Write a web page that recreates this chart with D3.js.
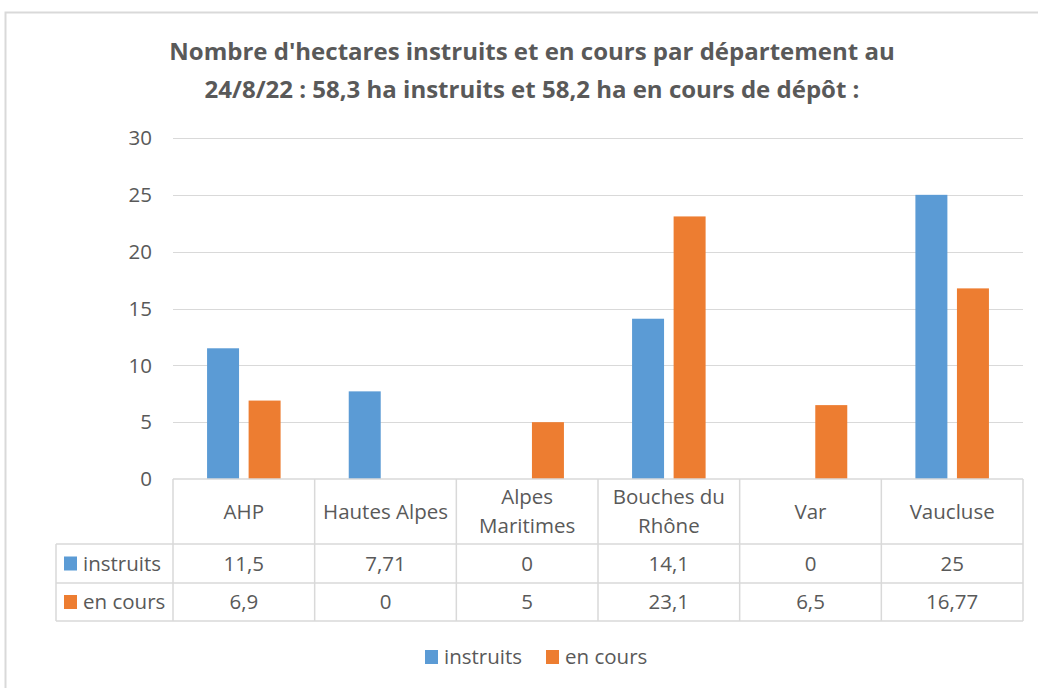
<!DOCTYPE html>
<meta charset="utf-8">
<title>Hectares par département</title>
<style>
body { margin: 0; background: #fff; }
text { font-family: "Open Sans", "Noto Sans", sans-serif; fill: #595959; }
.title { font-weight: bold; }
</style>
<body>
<script src="https://cdn.jsdelivr.net/npm/d3@7"></script>
<script>
'use strict';

// data
const departements = ["AHP", "Hautes Alpes", "Alpes\nMaritimes", "Bouches du\nRhône", "Var", "Vaucluse"];
const instruits = [11.5, 7.71, 0, 14.1, 0, 25];
const enCours = [6.9, 0, 5, 23.1, 6.5, 16.77];
const instruitsLabels = ["11,5", "7,71", "0", "14,1", "0", "25"];
const enCoursLabels = ["6,9", "0", "5", "23,1", "6,5", "16,77"];
const seriesNames = ["instruits", "en cours"];
const colors = ["#5b9bd5", "#ed7d31"];
const yTicks = [0, 5, 10, 15, 20, 25, 30];

const W = 1038, H = 688;
const plot = {left: 173, right: 1023, top: 138, bottom: 479};
const rows = {header: 544, r1: 583, r2: 621, labelLeft: 56};
const fs = 20.5;

const svg = d3.select("body").append("svg")
    .attr("width", W).attr("height", H);

// outer chart border
svg.append("rect")
    .attr("x", 5.5).attr("y", 12.5)
    .attr("width", W + 20).attr("height", H + 20)
    .attr("fill", "none").attr("stroke", "#d9d9d9").attr("stroke-width", 2);

// title
const title = svg.append("text").attr("class", "title")
    .attr("text-anchor", "middle").attr("font-size", 24);
title.append("tspan").attr("x", 532).attr("y", 60)
    .text("Nombre d'hectares instruits et en cours par département au");
title.append("tspan").attr("x", 532).attr("y", 98)
    .text("24/8/22 : 58,3 ha instruits et 58,2 ha en cours de dépôt  :");

const x = d3.scaleBand().domain(d3.range(departements.length))
    .range([plot.left, plot.right]);
const x1 = d3.scaleBand().domain([0, 1])
    .range([0, x.bandwidth()]).paddingInner(0.23).paddingOuter(0.82);
const y = d3.scaleLinear().domain([0, 30]).range([plot.bottom, plot.top]);

// gridlines
svg.append("g").selectAll("line").data(yTicks.filter(d => d > 0)).join("line")
    .attr("x1", plot.left).attr("x2", plot.right)
    .attr("y1", d => Math.round(y(d)) + 0.5).attr("y2", d => Math.round(y(d)) + 0.5)
    .attr("stroke", "#d9d9d9").attr("stroke-width", 1);

// y tick labels
svg.append("g").selectAll("text").data(yTicks).join("text")
    .attr("x", 152).attr("y", d => y(d)).attr("dy", "0.35em")
    .attr("text-anchor", "end").attr("font-size", fs)
    .text(d => d);

// bars
const series = [instruits, enCours];
series.forEach((vals, s) => {
  svg.append("g").selectAll("rect").data(vals).join("rect")
      .attr("x", (d, i) => x(i) + x1(s))
      .attr("width", x1.bandwidth())
      .attr("y", d => y(d))
      .attr("height", d => y(0) - y(d))
      .attr("fill", colors[s]);
});

// data table
const grid = svg.append("g").attr("stroke", "#d9d9d9").attr("stroke-width", 1.5).attr("fill", "none");
grid.append("line").attr("x1", plot.left).attr("x2", plot.right).attr("y1", plot.bottom).attr("y2", plot.bottom);
[rows.header, rows.r1, rows.r2].forEach(yy => {
  grid.append("line").attr("x1", rows.labelLeft).attr("x2", plot.right).attr("y1", yy).attr("y2", yy);
});
d3.range(departements.length + 1).forEach(i => {
  const xx = i < departements.length ? x(i) : plot.right;
  grid.append("line").attr("x1", xx).attr("x2", xx).attr("y1", plot.bottom).attr("y2", rows.r2);
});
grid.append("line").attr("x1", rows.labelLeft).attr("x2", rows.labelLeft).attr("y1", rows.header).attr("y2", rows.r2);

// header labels
svg.append("g").selectAll("text").data(departements).join("text")
    .attr("text-anchor", "middle").attr("font-size", fs)
    .each(function(d, i) {
      const lines = d.split("\n");
      const cy = (plot.bottom + rows.header) / 2;
      const t = d3.select(this);
      lines.forEach((l, k) => {
        t.append("tspan").attr("x", x(i) + x.bandwidth() / 2)
          .attr("y", cy + (k - (lines.length - 1) / 2) * 29)
          .attr("dy", "0.35em").text(l);
      });
    });

// row values
[instruitsLabels, enCoursLabels].forEach((labs, s) => {
  const top = s === 0 ? rows.header : rows.r1;
  const bot = s === 0 ? rows.r1 : rows.r2;
  svg.append("g").selectAll("text").data(labs).join("text")
      .attr("x", (d, i) => x(i) + x.bandwidth() / 2)
      .attr("y", (top + bot) / 2).attr("dy", "0.35em")
      .attr("text-anchor", "middle").attr("font-size", fs)
      .text(d => d);
  svg.append("rect").attr("x", 64).attr("y", (top + bot) / 2 - 7)
      .attr("width", 13).attr("height", 14).attr("fill", colors[s]);
  svg.append("text").attr("x", 83).attr("y", (top + bot) / 2).attr("dy", "0.35em")
      .attr("font-size", fs).text(seriesNames[s]);
});

// legend
const legend = svg.append("g");
const legendX = [425, 546];
seriesNames.forEach((n, s) => {
  legend.append("rect").attr("x", legendX[s]).attr("y", 650)
      .attr("width", 13).attr("height", 14).attr("fill", colors[s]);
  legend.append("text").attr("x", legendX[s] + 19).attr("y", 657).attr("dy", "0.35em")
      .attr("font-size", fs).text(n);
});
</script>
